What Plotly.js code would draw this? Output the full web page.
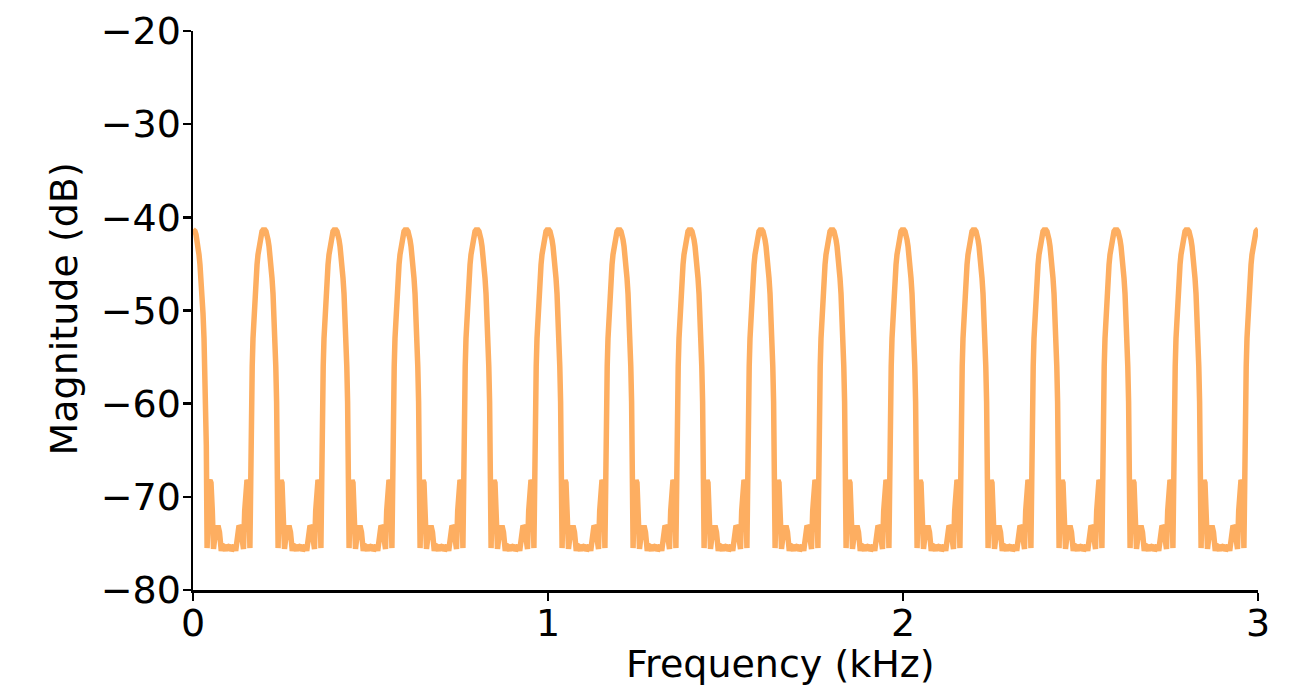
<!DOCTYPE html>
<html>
<head>
<meta charset="utf-8">
<script src="https://cdn.plot.ly/plotly-3.0.1.min.js"></script>
<style>
  html, body { margin: 0; padding: 0; background: #ffffff; }
  #chart { width: 1301px; height: 695px; }
</style>
</head>
<body>
<div id="chart"></div>
<script>
// Centre frequency of each repeating lobe (kHz)
const peakFreqsKHz = [0, 0.2, 0.4, 0.6, 0.8, 1.0, 1.2, 1.4, 1.6, 1.8, 2.0, 2.2, 2.4, 2.6, 2.8, 3.0];

// One period of the response around a lobe centre: offset (kHz) and magnitude (dB)
const lobeOffsetKHz = [
  -0.1000, -0.0958, -0.0915, -0.0873, -0.0831, -0.0797, -0.0746, -0.0704, -0.0662, -0.0620,
  -0.0577, -0.0544, -0.0507, -0.0479, -0.0451, -0.0423, -0.0397, -0.0375, -0.0355, -0.0332,
  -0.0310, -0.0282, -0.0254, -0.0225, -0.0197, -0.0169, -0.0141, -0.0113, -0.0085, -0.0056, -0.0028,
  0,
  0.0028, 0.0056, 0.0085, 0.0113, 0.0141, 0.0169, 0.0197, 0.0225, 0.0254, 0.0282,
  0.0310, 0.0332, 0.0355, 0.0375, 0.0397, 0.0423, 0.0451, 0.0479, 0.0507, 0.0544,
  0.0577, 0.0620, 0.0662, 0.0704, 0.0746, 0.0797, 0.0831, 0.0873, 0.0915, 0.0958
];
const lobeDb = [
  -75.4, -75.2, -75.8, -75.3, -75.2, -75.8, -73.8, -73.1, -73.3, -74.2,
  -75.6, -71.5, -68.5, -68.2, -68.4, -70.5, -75.5, -64.5, -59.8, -56.0,
  -53.0, -50.3, -48.2, -46.5, -45.1, -44.0, -43.1, -42.4, -41.85, -41.5, -41.35,
  -41.3,
  -41.35, -41.5, -41.85, -42.4, -43.1, -44.0, -45.1, -46.5, -48.2, -50.3,
  -53.0, -56.0, -59.8, -64.5, -75.5, -70.5, -68.4, -68.2, -68.5, -71.5,
  -75.6, -74.2, -73.3, -73.1, -73.8, -75.8, -75.2, -75.3, -75.8, -75.2
];

const xTickVals = [0, 1, 2, 3];
const xTickText = ['0', '1', '2', '3'];
const yTickVals = [-80, -70, -60, -50, -40, -30, -20];
const yTickText = ['\u221280', '\u221270', '\u221260', '\u221250', '\u221240', '\u221230', '\u221220'];

// Assemble the trace from the read lobe profile placed at each lobe centre
const freq = [];
const mag = [];
peakFreqsKHz.forEach(function (c) {
  for (let i = 0; i < lobeOffsetKHz.length; i++) {
    const f = +(c + lobeOffsetKHz[i]).toFixed(4);
    if (f < 0 || f > 3) continue;
    freq.push(f);
    mag.push(lobeDb[i]);
  }
});

const FONT = 'DejaVu Sans, Liberation Sans, sans-serif';

const trace = {
  x: freq,
  y: mag,
  type: 'scatter',
  mode: 'lines',
  line: { color: '#fdae61', width: 5.5, shape: 'linear' },
  hoverinfo: 'skip',
  cliponaxis: false
};

const axisCommon = {
  showgrid: false,
  zeroline: false,
  showline: true,
  linecolor: '#000000',
  linewidth: 2.5,
  ticks: 'outside',
  ticklen: 8,
  tickwidth: 2.5,
  tickcolor: '#000000',
  tickfont: { family: FONT, size: 38, color: '#000000' },
  fixedrange: true
};

const layout = {
  width: 1301,
  height: 695,
  margin: { l: 193, r: 43, t: 31, b: 105 },
  paper_bgcolor: '#ffffff',
  plot_bgcolor: '#ffffff',
  showlegend: false,
  xaxis: Object.assign({}, axisCommon, {
    range: [0, 3],
    tickmode: 'array',
    tickvals: xTickVals,
    ticktext: xTickText,
    ticklabelstandoff: -10
  }),
  yaxis: Object.assign({}, axisCommon, {
    range: [-80, -20],
    tickmode: 'array',
    tickvals: yTickVals,
    ticktext: yTickText,
    ticklabelstandoff: -6
  }),
  annotations: [
    {
      text: 'Frequency (kHz)',
      xref: 'paper', yref: 'paper',
      x: 0.5512, y: -0.1324,
      xanchor: 'center', yanchor: 'middle',
      showarrow: false,
      font: { family: FONT, size: 38, color: '#000000' }
    },
    {
      text: 'Magnitude (dB)',
      xref: 'paper', yref: 'paper',
      x: -0.1202, y: 0.5036,
      xanchor: 'center', yanchor: 'middle',
      textangle: -90,
      showarrow: false,
      font: { family: FONT, size: 38, color: '#000000' }
    }
  ]
};

Plotly.newPlot('chart', [trace], layout, { staticPlot: true, displayModeBar: false });
</script>
</body>
</html>
